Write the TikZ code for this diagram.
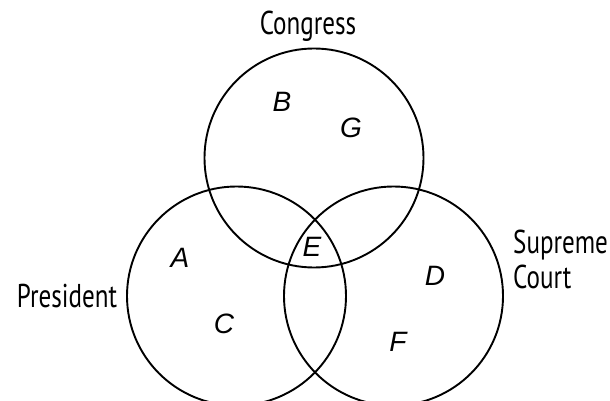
\documentclass[tikz,border=0pt]{standalone}
\usepackage{fontspec}
\setmainfont{PT Sans}[FakeStretch=0.76]
\newfontfamily\tagfont{Liberation Sans}
\usepackage{tikz}
\usetikzlibrary{positioning}

\begin{document}
\begin{tikzpicture}[
      x=1pt,y=-1pt,
      setCircle/.style={draw=black,circle,line width=1.9pt,
                        minimum size=219pt,inner sep=0pt},
      branchName/.style={font=\fontsize{33}{35}\selectfont,anchor=base,
                         inner sep=0pt},
      regionTag/.style={font=\tagfont\fontsize{28}{30}\selectfont\itshape,
                        inner sep=0pt}
    ]

    % Page frame
    \clip (0,0) rectangle (610,401);

    % The three branches
    \node(cong)[setCircle] at (314,158) {};
    \node(pres)[setCircle] at (236.5,296) {};
    \node(court)[setCircle] at (393.5,296) {};

    % Branch names
    \node(congName)[branchName] at (308,35) {Congress};
    \node(presName)[branchName] at (67,307) {President};
    \node(courtName)[branchName,anchor=base west,align=left] at (513,288)
      {Supreme\\Court};

    % Regions
    \node(b)[regionTag] at (282,102) {B};
    \node(g)[regionTag] at (351,128) {G};
    \node(a)[regionTag] at (180,258) {A};
    \node(e)[regionTag] at (312,247) {E};
    \node(d)[regionTag] at (435,276) {D};
    \node(c)[regionTag] at (224,324) {C};
    \node(f)[regionTag] at (398,342) {F};
  \end{tikzpicture}
\end{document}
